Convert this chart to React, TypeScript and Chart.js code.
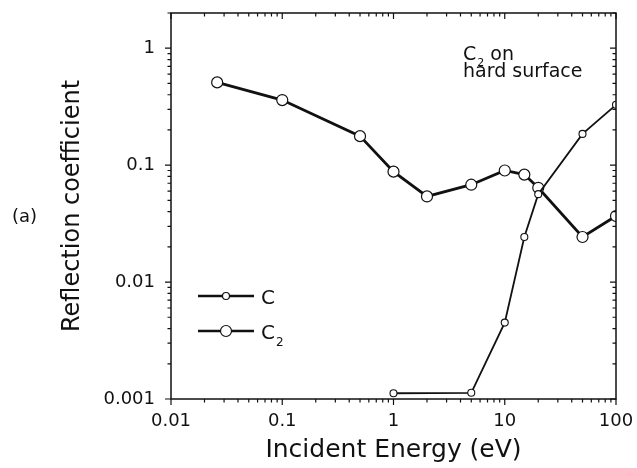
import React, { useEffect, useRef } from 'react';
import { Chart, registerables } from 'chart.js';

Chart.register(...registerables);

// ---- data ----
const energyC2 = [0.026, 0.1, 0.5, 1, 2, 5, 10, 15, 20, 50, 100];
const reflC2 = [0.51, 0.36, 0.177, 0.088, 0.054, 0.068, 0.09, 0.083, 0.064, 0.0243, 0.0367];
const energyC = [1, 5, 10, 15, 20, 50, 100];
const reflC = [0.00112, 0.00113, 0.0045, 0.0243, 0.0565, 0.185, 0.328];

const xTickValues = [0.01, 0.1, 1, 10, 100];
const xTickLabels = ['0.01', '0.1', '1', '10', '100'];
const yTickValues = [0.001, 0.01, 0.1, 1];
const yTickLabels = ['0.001', '0.01', '0.1', '1'];
const xMin = 0.01;
const xMax = 100;
const yMin = 0.001;
const yMax = 2;

const FONT = '"DejaVu Sans", "Liberation Sans", Arial, sans-serif';
const INK = '#111';

const findLabel = (vals: number[], labels: string[], v: number) => {
  const i = vals.findIndex((t) => Math.abs(t - v) / t < 1e-6);
  return i >= 0 ? labels[i] : '';
};

const minorValues = (lo: number, hi: number) => {
  const out: { v: number; major: boolean }[] = [];
  for (let e = Math.floor(Math.log10(lo)); e <= Math.ceil(Math.log10(hi)); e++) {
    for (let m = 1; m <= 9; m++) {
      const v = m * Math.pow(10, e);
      if (v >= lo * 0.9999 && v <= hi * 1.0001) out.push({ v, major: m === 1 });
    }
  }
  return out;
};

const zeroPad = (s: any) => {
  s.paddingTop = 0;
  s.paddingBottom = 0;
  s.paddingLeft = 0;
  s.paddingRight = 0;
};

const framePlugin = {
  id: 'frameTicks',
  afterDatasetsDraw(chart: any) {
    const { ctx, chartArea, scales } = chart;
    const { left, right, top, bottom } = chartArea;
    const x = scales.x;
    const y = scales.y;
    ctx.save();
    ctx.strokeStyle = INK;
    ctx.lineWidth = 1.5;
    ctx.strokeRect(left, top, right - left, bottom - top);
    ctx.lineWidth = 1.2;
    ctx.beginPath();
    for (const t of minorValues(xMin, xMax)) {
      const px = x.getPixelForValue(t.v);
      const len = t.major ? 6 : 3.5;
      ctx.moveTo(px, bottom);
      ctx.lineTo(px, bottom + len);
      ctx.moveTo(px, top);
      ctx.lineTo(px, top + len);
    }
    for (const t of minorValues(yMin, yMax)) {
      const py = y.getPixelForValue(t.v);
      const len = t.major ? 6 : 3.5;
      ctx.moveTo(left - len, py);
      ctx.lineTo(left, py);
      ctx.moveTo(right - len, py);
      ctx.lineTo(right, py);
    }
    ctx.stroke();

    // legend
    const rows = [
      { label: 'C', sub: '', r: 3.5, dy: 283 },
      { label: 'C', sub: '2', r: 5.5, dy: 318 },
    ];
    for (const row of rows) {
      const ly = top + row.dy;
      const x0 = left + 27;
      const x1 = left + 83;
      ctx.strokeStyle = INK;
      ctx.lineWidth = 2.6;
      ctx.beginPath();
      ctx.moveTo(x0, ly);
      ctx.lineTo(x1, ly);
      ctx.stroke();
      ctx.beginPath();
      ctx.arc((x0 + x1) / 2, ly, row.r, 0, Math.PI * 2);
      ctx.fillStyle = '#fff';
      ctx.fill();
      ctx.lineWidth = 1.2;
      ctx.stroke();
      ctx.fillStyle = INK;
      ctx.textBaseline = 'alphabetic';
      ctx.textAlign = 'left';
      ctx.font = '20px ' + FONT;
      ctx.fillText(row.label, x1 + 7, ly + 7.5);
      if (row.sub) {
        const w = ctx.measureText(row.label).width;
        ctx.font = '12px ' + FONT;
        ctx.fillText(row.sub, x1 + 7 + w + 1, ly + 15);
      }
    }

    // annotation
    ctx.fillStyle = INK;
    ctx.textAlign = 'left';
    ctx.textBaseline = 'alphabetic';
    const ax = left + 292;
    const ay = top + 47;
    ctx.font = '19px ' + FONT;
    ctx.fillText('C', ax, ay);
    const cw = ctx.measureText('C').width;
    ctx.font = '11px ' + FONT;
    ctx.fillText('2', ax + cw + 1, ay + 6);
    ctx.font = '19px ' + FONT;
    ctx.fillText(' on', ax + cw + 8, ay);
    ctx.fillText('hard surface', ax, ay + 17);

    // panel label
    ctx.font = '18px ' + FONT;
    ctx.textBaseline = 'middle';
    ctx.fillText('(a)', 12, 217);
    ctx.restore();
  },
};

export default function App() {
  const ref = useRef<HTMLCanvasElement | null>(null);
  useEffect(() => {
    document.body.style.margin = '0';
    if (!ref.current) return;
    const chart = new Chart(ref.current, {
      type: 'line',
      data: {
        datasets: [
          {
            label: 'C',
            data: energyC.map((e, i) => ({ x: e, y: reflC[i] })),
            borderColor: INK,
            borderWidth: 1.8,
            pointRadius: 3.5,
            pointBorderWidth: 1.1,
            pointBackgroundColor: '#fff',
            pointBorderColor: INK,
            tension: 0,
            clip: 0,
          },
          {
            label: 'C2',
            data: energyC2.map((e, i) => ({ x: e, y: reflC2[i] })),
            borderColor: INK,
            borderWidth: 2.8,
            pointRadius: 5.5,
            pointBorderWidth: 1.2,
            pointBackgroundColor: '#fff',
            pointBorderColor: INK,
            tension: 0,
            clip: 0,
          },
        ],
      },
      options: {
        animation: false,
        responsive: false,
        layout: { padding: { left: 50, right: 21, top: 13, bottom: 0 } },
        plugins: { legend: { display: false }, tooltip: { enabled: false } },
        scales: {
          x: {
            type: 'logarithmic',
            min: xMin,
            max: xMax,
            afterBuildTicks: (s: any) => {
              s.ticks = xTickValues.map((v) => ({ value: v, major: true }));
            },
            afterFit: (s: any) => {
              s.height = 69;
              zeroPad(s);
            },
            grid: { drawOnChartArea: false, drawTicks: false },
            border: { display: false },
            ticks: {
              autoSkip: false,
              maxRotation: 0,
              padding: 12,
              color: INK,
              font: { family: FONT, size: 18 },
              callback: (v: any) => findLabel(xTickValues, xTickLabels, Number(v)),
            },
            title: {
              display: true,
              text: 'Incident Energy (eV)',
              color: INK,
              font: { family: FONT, size: 25 },
              padding: { top: 0, bottom: 3 },
            },
          },
          y: {
            type: 'logarithmic',
            min: yMin,
            max: yMax,
            afterBuildTicks: (s: any) => {
              s.ticks = yTickValues.map((v) => ({ value: v, major: true }));
            },
            afterFit: (s: any) => {
              s.width = 121;
              zeroPad(s);
            },
            grid: { drawOnChartArea: false, drawTicks: false },
            border: { display: false },
            ticks: {
              autoSkip: false,
              padding: 16,
              color: INK,
              font: { family: FONT, size: 18 },
              callback: (v: any) => findLabel(yTickValues, yTickLabels, Number(v)),
            },
            title: {
              display: true,
              text: 'Reflection coefficient',
              color: INK,
              font: { family: FONT, size: 24 },
              padding: { top: 8, bottom: 0 },
            },
          },
        },
      },
      plugins: [framePlugin],
    } as any);
    return () => chart.destroy();
  }, []);
  return (
    <div style={{ width: 637, height: 468, position: 'relative', background: '#fff' }}>
      <canvas ref={ref} width={637} height={468} style={{ display: 'block' }} />
    </div>
  );
}
